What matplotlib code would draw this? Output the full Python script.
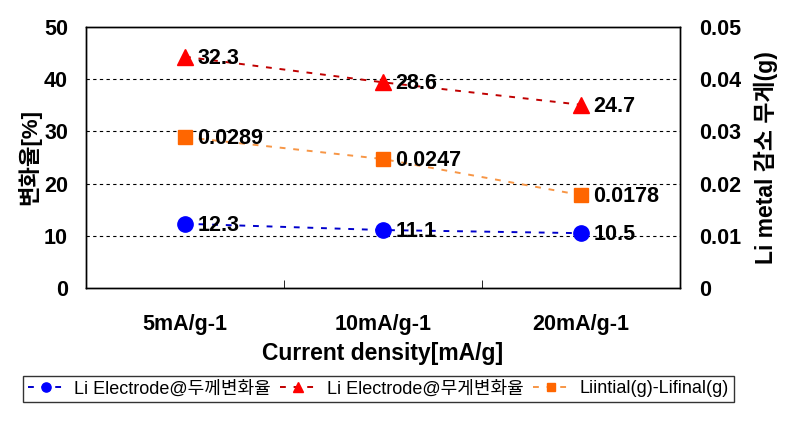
import matplotlib.pyplot as plt
import numpy as np

plt.rcParams['font.family'] = ['Liberation Sans', 'Noto Sans CJK KR']

categories = ['5mA/g-1', '10mA/g-1', '20mA/g-1']
thick = [12.3, 11.1, 10.5]            # 두께변화율 (%)
weight_pos = [44.3, 39.4, 35.1]       # 무게변화율 marker heights as drawn (%)
weight_lbl = ['32.3', '28.6', '24.7'] # 무게변화율 data labels
li_loss = [0.0289, 0.0247, 0.0178]    # Li metal 감소 무게 (g)

x = np.arange(len(categories))

fig = plt.figure(figsize=(7.91, 4.25), dpi=100)
ax = fig.add_axes([0.1087, 0.3224, 0.751, 0.6141])
ax2 = ax.twinx()

ax.set_xlim(-0.5, 2.5)
ax.set_ylim(0, 50)
ax2.set_ylim(0, 0.05)

dash = (0, (3, 4))
l1, = ax.plot(x, thick, ls=dash, lw=1.4, color='#0000CC', marker='o',
              ms=11, mfc='#0000FF', mec='#0000FF', zorder=3)
l2, = ax.plot(x, weight_pos, ls=dash, lw=1.4, color='#C00000', marker='^',
              ms=11, mfc='#FF0000', mec='#FF0000', zorder=3)
l3, = ax2.plot(x, li_loss, ls=dash, lw=1.4, color='#F79646', marker='s',
               ms=10, mfc='#FF6600', mec='#FF6600', zorder=3)

lab = dict(fontsize=15.5, fontweight='bold', va='center', ha='left')
for i in x:
    ax.annotate(f'{thick[i]}', (i, thick[i]), xytext=(9, -1), textcoords='offset points', **lab)
    ax.annotate(weight_lbl[i], (i, weight_pos[i]), xytext=(9, -1), textcoords='offset points', **lab)
    ax2.annotate(f'{li_loss[i]}', (i, li_loss[i]), xytext=(9, -1), textcoords='offset points', **lab)

ax.set_yticks([0, 10, 20, 30, 40, 50])
ax.set_yticklabels(['0', '10', '20', '30', '40', '50'])
ax2.set_yticks([0, 0.01, 0.02, 0.03, 0.04, 0.05])
ax2.set_yticklabels(['0', '0.01', '0.02', '0.03', '0.04', '0.05'])
ax.tick_params(axis='y', length=0, pad=13, labelsize=15.5)
ax2.tick_params(axis='y', length=0, pad=14, labelsize=15.5)
for a in (ax, ax2):
    for t in a.get_yticklabels():
        t.set_fontweight('bold')
    for s in a.spines.values():
        s.set_linewidth(1.0)

ax.set_xticks(x)
ax.set_xticklabels(categories, fontsize=15.5, fontweight='bold')
ax.tick_params(axis='x', length=0, pad=19)
ax.set_xticks([0.5, 1.5], minor=True)
ax.tick_params(axis='x', which='minor', direction='in', length=6)

for yv in [10, 20, 30, 40]:
    ax.axhline(yv, color='black', lw=0.8, ls=(0, (3, 3)), zorder=1)

ax.set_ylabel('변화율[%]', fontsize=16, fontweight='bold', labelpad=2)
ax2.set_ylabel('Li metal 감소 무게(g)', fontsize=16.5, fontweight='bold', labelpad=9)
ax.set_xlabel('Current density[mA/g]', fontsize=16.5, fontweight='bold', labelpad=5)

leg = fig.legend([l1, l2, l3],
                 ['Li Electrode@두께변화율', 'Li Electrode@무게변화율', 'Liintial(g)-Lifinal(g)'],
                 ncol=3, loc='lower left', bbox_to_anchor=(23 / 791, 23 / 425),
                 fontsize=13, frameon=True, fancybox=False, edgecolor='black',
                 handlelength=2.0, markerscale=0.6, columnspacing=0.5,
                 handletextpad=0.6, borderpad=0.25, borderaxespad=0)
leg.get_frame().set_linewidth(1.0)

fig.savefig('out.png', dpi=100)
